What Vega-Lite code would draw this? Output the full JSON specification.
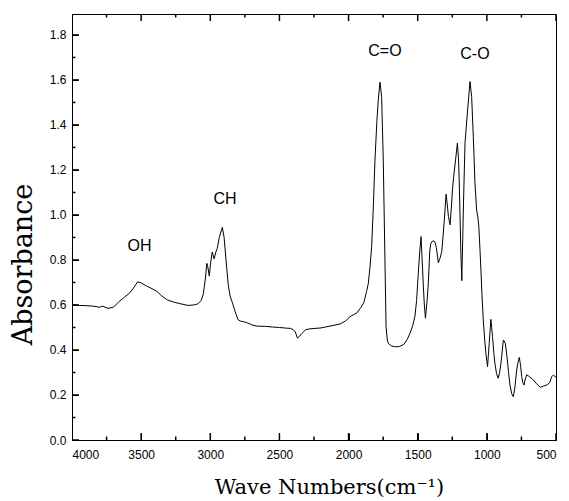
{
  "$schema": "https://vega.github.io/schema/vega-lite/v6.json",
  "width": 484,
  "height": 426,
  "autosize": {"type": "none"},
  "padding": {"left": 72, "top": 14, "right": 13, "bottom": 61},
  "background": "white",
  "datasets": {
    "labels": [
      {"wn": 3512, "a": 0.862, "t": "OH"},
      {"wn": 2894, "a": 1.072, "t": "CH"},
      {"wn": 1737, "a": 1.729, "t": "C=O"},
      {"wn": 1086, "a": 1.716, "t": "C-O"}
    ],
    "xticks": [
      {"wn": 4000, "k": "major"}, {"wn": 3750, "k": "minor"}, {"wn": 3500, "k": "major"}, {"wn": 3250, "k": "minor"},
      {"wn": 3000, "k": "major"}, {"wn": 2750, "k": "minor"}, {"wn": 2500, "k": "major"}, {"wn": 2250, "k": "minor"},
      {"wn": 2000, "k": "major"}, {"wn": 1750, "k": "minor"}, {"wn": 1500, "k": "major"}, {"wn": 1250, "k": "minor"},
      {"wn": 1000, "k": "major"}, {"wn": 750, "k": "minor"}, {"wn": 500, "k": "major"}
    ],
    "yticks": [
      {"a": 0.0, "k": "major"}, {"a": 0.1, "k": "minor"}, {"a": 0.2, "k": "major"}, {"a": 0.3, "k": "minor"},
      {"a": 0.4, "k": "major"}, {"a": 0.5, "k": "minor"}, {"a": 0.6, "k": "major"}, {"a": 0.7, "k": "minor"},
      {"a": 0.8, "k": "major"}, {"a": 0.9, "k": "minor"}, {"a": 1.0, "k": "major"}, {"a": 1.1, "k": "minor"},
      {"a": 1.2, "k": "major"}, {"a": 1.3, "k": "minor"}, {"a": 1.4, "k": "major"}, {"a": 1.5, "k": "minor"},
      {"a": 1.6, "k": "major"}, {"a": 1.7, "k": "minor"}, {"a": 1.8, "k": "major"}
    ]
  },
  "config": {
    "view": {"stroke": "black", "strokeWidth": 1},
    "axis": {"domainColor": "black", "tickColor": "black", "labelColor": "black", "titleColor": "black", "grid": false, "zindex": 1, "labelFont": "Liberation Sans", "labelFontSize": 12, "domainWidth": 1, "tickWidth": 1}
  },
  "layer": [
    {
      "data": {"values": [
        {"wn": 4000, "a": 0.600}, {"wn": 3950, "a": 0.598}, {"wn": 3900, "a": 0.597}, {"wn": 3850, "a": 0.595},
        {"wn": 3800, "a": 0.590}, {"wn": 3780, "a": 0.595}, {"wn": 3740, "a": 0.585}, {"wn": 3700, "a": 0.590},
        {"wn": 3660, "a": 0.615}, {"wn": 3620, "a": 0.635}, {"wn": 3580, "a": 0.655}, {"wn": 3550, "a": 0.680},
        {"wn": 3525, "a": 0.703}, {"wn": 3500, "a": 0.698}, {"wn": 3460, "a": 0.684}, {"wn": 3420, "a": 0.672},
        {"wn": 3385, "a": 0.660}, {"wn": 3350, "a": 0.640}, {"wn": 3310, "a": 0.622}, {"wn": 3260, "a": 0.612},
        {"wn": 3220, "a": 0.606}, {"wn": 3160, "a": 0.598}, {"wn": 3120, "a": 0.600}, {"wn": 3090, "a": 0.605},
        {"wn": 3065, "a": 0.620}, {"wn": 3050, "a": 0.650}, {"wn": 3035, "a": 0.720}, {"wn": 3025, "a": 0.785},
        {"wn": 3018, "a": 0.770}, {"wn": 3007, "a": 0.728}, {"wn": 2997, "a": 0.790}, {"wn": 2986, "a": 0.835},
        {"wn": 2972, "a": 0.805}, {"wn": 2960, "a": 0.835}, {"wn": 2950, "a": 0.850}, {"wn": 2935, "a": 0.900},
        {"wn": 2913, "a": 0.945}, {"wn": 2900, "a": 0.900}, {"wn": 2882, "a": 0.770}, {"wn": 2870, "a": 0.690},
        {"wn": 2857, "a": 0.640}, {"wn": 2840, "a": 0.610}, {"wn": 2820, "a": 0.570}, {"wn": 2800, "a": 0.535},
        {"wn": 2780, "a": 0.528}, {"wn": 2760, "a": 0.526}, {"wn": 2730, "a": 0.520}, {"wn": 2700, "a": 0.512},
        {"wn": 2665, "a": 0.506}, {"wn": 2600, "a": 0.505}, {"wn": 2550, "a": 0.502}, {"wn": 2500, "a": 0.500},
        {"wn": 2450, "a": 0.497}, {"wn": 2420, "a": 0.496}, {"wn": 2400, "a": 0.490}, {"wn": 2385, "a": 0.480},
        {"wn": 2370, "a": 0.453}, {"wn": 2355, "a": 0.460}, {"wn": 2340, "a": 0.472}, {"wn": 2310, "a": 0.490},
        {"wn": 2280, "a": 0.494}, {"wn": 2200, "a": 0.498}, {"wn": 2120, "a": 0.508}, {"wn": 2060, "a": 0.516},
        {"wn": 2020, "a": 0.530}, {"wn": 1990, "a": 0.548}, {"wn": 1960, "a": 0.558}, {"wn": 1940, "a": 0.565},
        {"wn": 1915, "a": 0.585}, {"wn": 1890, "a": 0.610}, {"wn": 1870, "a": 0.660}, {"wn": 1857, "a": 0.696},
        {"wn": 1845, "a": 0.770}, {"wn": 1833, "a": 0.860}, {"wn": 1820, "a": 1.050}, {"wn": 1809, "a": 1.244},
        {"wn": 1795, "a": 1.420}, {"wn": 1785, "a": 1.511}, {"wn": 1773, "a": 1.590}, {"wn": 1761, "a": 1.526},
        {"wn": 1749, "a": 1.244}, {"wn": 1737, "a": 0.800}, {"wn": 1729, "a": 0.504}, {"wn": 1720, "a": 0.445},
        {"wn": 1713, "a": 0.430}, {"wn": 1690, "a": 0.418}, {"wn": 1660, "a": 0.414}, {"wn": 1630, "a": 0.416},
        {"wn": 1600, "a": 0.425}, {"wn": 1575, "a": 0.448}, {"wn": 1556, "a": 0.474}, {"wn": 1535, "a": 0.510},
        {"wn": 1520, "a": 0.550}, {"wn": 1508, "a": 0.620}, {"wn": 1496, "a": 0.740}, {"wn": 1485, "a": 0.840},
        {"wn": 1476, "a": 0.904}, {"wn": 1468, "a": 0.800}, {"wn": 1459, "a": 0.681}, {"wn": 1452, "a": 0.600},
        {"wn": 1444, "a": 0.541}, {"wn": 1432, "a": 0.620}, {"wn": 1423, "a": 0.700}, {"wn": 1413, "a": 0.840},
        {"wn": 1405, "a": 0.874}, {"wn": 1390, "a": 0.886}, {"wn": 1375, "a": 0.880}, {"wn": 1365, "a": 0.855},
        {"wn": 1351, "a": 0.788}, {"wn": 1340, "a": 0.805}, {"wn": 1326, "a": 0.837}, {"wn": 1315, "a": 0.920},
        {"wn": 1305, "a": 1.000}, {"wn": 1295, "a": 1.092}, {"wn": 1285, "a": 1.040}, {"wn": 1278, "a": 0.993},
        {"wn": 1266, "a": 0.956}, {"wn": 1256, "a": 1.040}, {"wn": 1249, "a": 1.111}, {"wn": 1240, "a": 1.170},
        {"wn": 1229, "a": 1.230}, {"wn": 1213, "a": 1.319}, {"wn": 1205, "a": 1.250}, {"wn": 1200, "a": 1.156},
        {"wn": 1194, "a": 1.000}, {"wn": 1188, "a": 0.830}, {"wn": 1181, "a": 0.708}, {"wn": 1175, "a": 0.880},
        {"wn": 1169, "a": 1.052}, {"wn": 1158, "a": 1.319}, {"wn": 1145, "a": 1.422}, {"wn": 1133, "a": 1.511},
        {"wn": 1122, "a": 1.593}, {"wn": 1110, "a": 1.526}, {"wn": 1098, "a": 1.348}, {"wn": 1086, "a": 1.141},
        {"wn": 1074, "a": 1.022}, {"wn": 1065, "a": 0.990}, {"wn": 1058, "a": 0.948}, {"wn": 1050, "a": 0.850},
        {"wn": 1043, "a": 0.756}, {"wn": 1035, "a": 0.640}, {"wn": 1026, "a": 0.533}, {"wn": 1015, "a": 0.440},
        {"wn": 1007, "a": 0.385}, {"wn": 995, "a": 0.326}, {"wn": 983, "a": 0.430}, {"wn": 971, "a": 0.536},
        {"wn": 965, "a": 0.500}, {"wn": 959, "a": 0.459}, {"wn": 950, "a": 0.390}, {"wn": 942, "a": 0.341},
        {"wn": 930, "a": 0.295}, {"wn": 918, "a": 0.274}, {"wn": 908, "a": 0.300}, {"wn": 898, "a": 0.341},
        {"wn": 888, "a": 0.400}, {"wn": 881, "a": 0.444}, {"wn": 874, "a": 0.440}, {"wn": 867, "a": 0.430},
        {"wn": 860, "a": 0.400}, {"wn": 852, "a": 0.356}, {"wn": 843, "a": 0.300}, {"wn": 833, "a": 0.244},
        {"wn": 820, "a": 0.205}, {"wn": 809, "a": 0.193}, {"wn": 798, "a": 0.230}, {"wn": 784, "a": 0.311},
        {"wn": 775, "a": 0.345}, {"wn": 765, "a": 0.367}, {"wn": 756, "a": 0.330}, {"wn": 748, "a": 0.281},
        {"wn": 740, "a": 0.255}, {"wn": 732, "a": 0.244}, {"wn": 722, "a": 0.270}, {"wn": 712, "a": 0.289},
        {"wn": 700, "a": 0.285}, {"wn": 680, "a": 0.275}, {"wn": 664, "a": 0.267}, {"wn": 640, "a": 0.250},
        {"wn": 615, "a": 0.234}, {"wn": 590, "a": 0.240}, {"wn": 567, "a": 0.244}, {"wn": 545, "a": 0.255},
        {"wn": 531, "a": 0.281}, {"wn": 520, "a": 0.288}, {"wn": 510, "a": 0.284}, {"wn": 500, "a": 0.280}
      ]},
      "mark": {"type": "line", "color": "black", "strokeWidth": 1, "clip": true},
      "encoding": {
        "x": {
          "field": "wn", "type": "quantitative", "sort": null,
          "scale": {"domain": [500, 4000], "reverse": true, "nice": false, "zero": false},
          "axis": {
            "values": [4000, 3500, 3000, 2500, 2000, 1500, 1000, 500],
            "format": "d",
            "tickSize": -7,
            "labelPadding": 16,
            "labelOverlap": false,
            "title": "Wave Numbers(cm⁻¹)",
            "titleFont": "DejaVu Serif", "titleFontSize": 21, "titleFontWeight": "normal",
            "titleBaseline": "alphabetic", "titleX": 257, "titleY": 53
          }
        },
        "y": {
          "field": "a", "type": "quantitative",
          "scale": {"domain": [0, 1.893], "nice": false, "zero": true},
          "axis": {
            "values": [0, 0.2, 0.4, 0.6, 0.8, 1.0, 1.2, 1.4, 1.6, 1.8],
            "format": ".1f",
            "tickSize": -6,
            "labelPadding": 12,
            "labelOverlap": false,
            "title": "Absorbance",
            "titleFont": "DejaVu Serif", "titleFontSize": 27, "titleFontWeight": "normal",
            "titleX": -35, "titleY": 250
          }
        }
      }
    },
    {
      "data": {"name": "labels"},
      "mark": {"type": "text", "font": "Liberation Sans", "fontSize": 16, "color": "black", "baseline": "middle", "align": "center"},
      "encoding": {
        "x": {"field": "wn", "type": "quantitative"},
        "y": {"field": "a", "type": "quantitative"},
        "text": {"field": "t"}
      }
    },
    {
      "data": {"name": "xticks"},
      "mark": {"type": "tick", "orient": "vertical", "color": "black", "thickness": 1.5, "opacity": 1, "clip": true},
      "encoding": {
        "x": {"field": "wn", "type": "quantitative"},
        "y": {"datum": 0, "type": "quantitative"},
        "size": {"field": "k", "type": "nominal", "scale": {"domain": ["major", "minor"], "range": [14, 7]}, "legend": null}
      }
    },
    {
      "data": {"name": "xticks"},
      "mark": {"type": "tick", "orient": "vertical", "color": "black", "thickness": 1.5, "opacity": 1, "clip": true},
      "encoding": {
        "x": {"field": "wn", "type": "quantitative"},
        "y": {"datum": 1.893, "type": "quantitative"},
        "size": {"field": "k", "type": "nominal", "scale": {"domain": ["major", "minor"], "range": [14, 7]}, "legend": null}
      }
    },
    {
      "data": {"name": "yticks"},
      "mark": {"type": "tick", "orient": "horizontal", "color": "black", "thickness": 1.5, "opacity": 1, "clip": true},
      "encoding": {
        "x": {"datum": 4000, "type": "quantitative"},
        "y": {"field": "a", "type": "quantitative"},
        "size": {"field": "k", "type": "nominal", "scale": {"domain": ["major", "minor"], "range": [12, 6]}, "legend": null}
      }
    }
  ]
}
